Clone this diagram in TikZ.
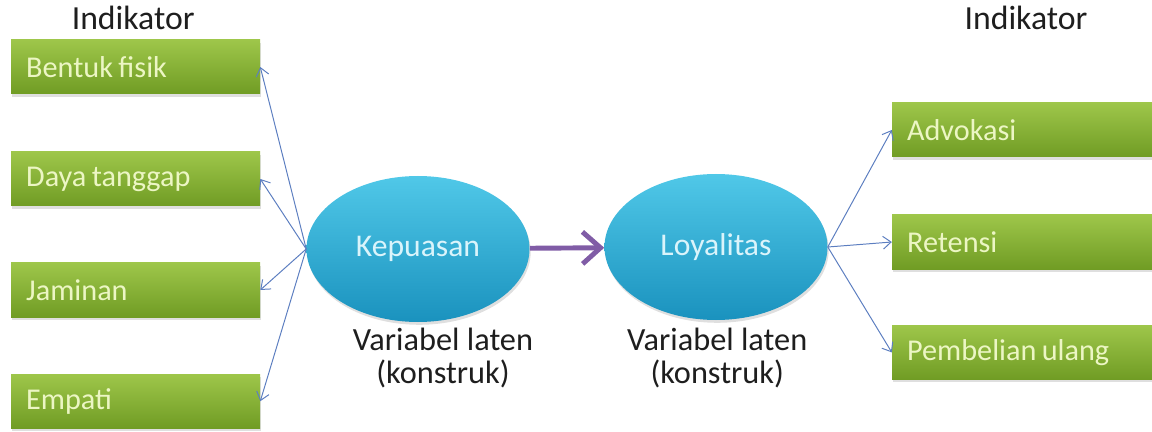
\documentclass[tikz,border=0pt]{standalone}
\usepackage{fontspec}
\setmainfont{Carlito}
\usepackage{xcolor}
\usepackage{tikz}
\usetikzlibrary{arrows.meta, shapes.geometric, shadows}
\definecolor{boxtop}{RGB}{158,198,74}
\definecolor{boxbot}{RGB}{112,156,36}
\definecolor{boxtext}{RGB}{236,246,196}
\definecolor{ovaltop}{RGB}{80,200,232}
\definecolor{ovalmid}{RGB}{40,174,212}
\definecolor{ovalbot}{RGB}{26,146,190}
\definecolor{ovaltext}{RGB}{218,244,251}
\definecolor{linkblue}{RGB}{92,126,192}
\definecolor{relpurple}{RGB}{128,92,166}
\definecolor{labelgray}{RGB}{30,30,30}

\begin{document}
\begin{tikzpicture}[>=Stealth,
  indbox/.style={top color=boxtop, bottom color=boxbot, text=boxtext,
    minimum height=1.35cm, inner xsep=0.375cm, text width=#1, align=left,
    font=\fontsize{21.5}{24}\selectfont,
    execute at begin node={\spaceskip=0.18em\relax},
    drop shadow={opacity=0.25, shadow xshift=0.03cm, shadow yshift=-0.07cm}},
  latent/.style={ellipse, minimum width=5.575cm, minimum height=3.65cm,
    inner sep=0pt, top color=ovaltop, middle color=ovalmid, bottom color=ovalbot,
    text=ovaltext, font=\fontsize{22.5}{26}\selectfont,
    drop shadow={opacity=0.25, shadow xshift=0.03cm, shadow yshift=-0.07cm}},
  lbl/.style={text=labelgray, font=\fontsize{24}{28}\selectfont},
  note/.style={text=labelgray, align=center, font=\fontsize{23}{23.5}\selectfont},
  link/.style={-{Straight Barb[length=2mm, width=3.2mm]}, draw=linkblue, line width=0.7pt},
  rel/.style={-{Straight Barb[length=4.5mm, width=8mm]}, draw=relpurple, line width=3.5pt}]
  \useasboundingbox (0,0) rectangle (28.8,-10.8);

  % indikator kiri
  \node[lbl, anchor=base] (indL) at (3.33,-0.75) {Indikator};
  \node[indbox=5.47cm] (fisik) at (3.39,-1.675) {Bentuk fisik};
  \node[indbox=5.47cm] (daya) at (3.39,-4.475) {Daya tanggap};
  \node[indbox=5.47cm] (jamin) at (3.39,-7.25) {Jaminan};
  \node[indbox=5.47cm] (empati) at (3.39,-10.03) {Empati};

  % variabel laten
  \node[latent] (kep) at (10.45,-6.225) {Kepuasan};
  \node[latent] (loy) at (17.9,-6.175) {Loyalitas};
  \node[note] (kepnote) at (11.075,-8.96) {Variabel laten\\(konstruk)};
  \node[note] (loynote) at (17.93,-8.96) {Variabel laten\\(konstruk)};

  % indikator kanan
  \node[lbl, anchor=base] (indR) at (25.65,-0.75) {Indikator};
  \node[indbox=5.825cm] (advo) at (25.59,-3.25) {Advokasi};
  \node[indbox=5.825cm] (reten) at (25.59,-6.05) {Retensi};
  \node[indbox=5.825cm] (ulang) at (25.59,-8.81) {Pembelian ulang};

  \draw[link] (kep.west) -- (fisik.east);
  \draw[link] (kep.west) -- (daya.east);
  \draw[link] (kep.west) -- (jamin.east);
  \draw[link] (kep.west) -- (empati.east);
  \draw[rel] (kep) -- (loy);
  \draw[link] (loy.east) -- (advo.west);
  \draw[link] (loy.east) -- (reten.west);
  \draw[link] (loy.east) -- (ulang.west);
\end{tikzpicture}
\end{document}
